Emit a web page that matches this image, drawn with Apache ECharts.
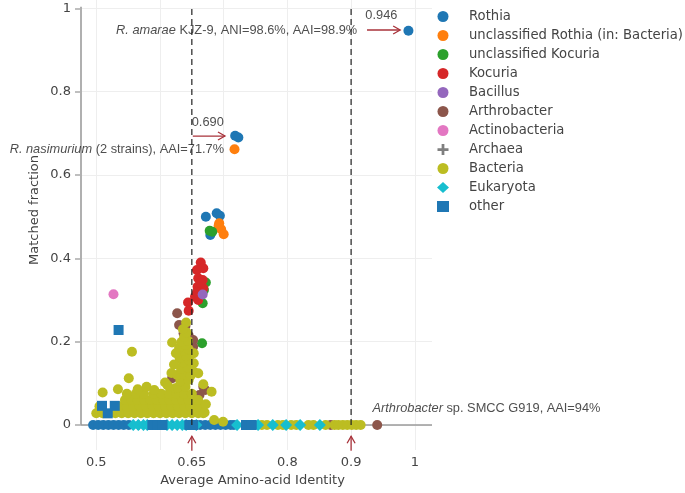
<!DOCTYPE html>
<html><head><meta charset="utf-8">
<script src="https://cdn.jsdelivr.net/npm/echarts@6/dist/echarts.min.js"></script>
<style>html,body{margin:0;padding:0;background:#fff}#c{width:685px;height:493px}</style>
</head><body><div id="c"></div>
<script>
// ---- data ----
const rothia = [[0.990,0.946],[0.718,0.694],[0.723,0.690],[0.672,0.500],[0.689,0.508],[0.694,0.502],[0.679,0.456],
  [0.495,0],[0.503,0],[0.511,0],[0.519,0],[0.527,0],[0.535,0],[0.543,0],[0.551,0],[0.648,0],
  [0.663,0],[0.671,0],[0.679,0],[0.687,0],[0.695,0],[0.703,0],[0.711,0],[0.716,0]];
const unclRothia = [[0.717,0.662],[0.693,0.484],[0.696,0.470],[0.700,0.458],[0.692,0.478]];
const unclKocuria = [[0.678,0.466],[0.682,0.464],[0.672,0.342],[0.669,0.324],[0.667,0.292],[0.666,0.196]];
const kocuria = [[0.664,0.390],[0.668,0.376],[0.658,0.372],[0.660,0.352],[0.667,0.348],[0.659,0.332],[0.668,0.328],
  [0.663,0.314],[0.655,0.308],[0.660,0.300],[0.644,0.294],[0.645,0.274],[0.658,0.318],[0.664,0.340]];
const bacillus = [[0.667,0.313]];
const arthrobacter = [[0.627,0.268],[0.630,0.240],[0.640,0.238],[0.637,0.220],[0.652,0.204],[0.652,0.188],[0.645,0.215],
  [0.619,0.112],[0.668,0.092],[0.662,0.072],[0.671,0.084],[0.868,0],[0.941,0]];
const actinobacteria = [[0.527,0.314]];
const archaea = [[0.566,0]];
const bacteria = [
  [0.500,0.028],[0.510,0.028],[0.530,0.028],[0.540,0.028],[0.550,0.028],[0.560,0.028],[0.570,0.028],[0.580,0.028],
  [0.590,0.028],[0.600,0.028],[0.610,0.028],[0.620,0.028],[0.630,0.028],[0.640,0.028],[0.650,0.028],[0.660,0.028],[0.668,0.028],
  [0.505,0.045],[0.538,0.045],[0.548,0.045],[0.558,0.045],[0.568,0.045],[0.578,0.045],[0.588,0.045],[0.598,0.045],
  [0.608,0.045],[0.618,0.045],[0.628,0.045],[0.638,0.045],[0.648,0.045],[0.658,0.045],
  [0.545,0.060],[0.555,0.060],[0.565,0.060],[0.575,0.060],[0.585,0.060],[0.595,0.060],[0.605,0.060],[0.615,0.060],
  [0.625,0.060],[0.635,0.060],[0.645,0.060],[0.655,0.060],
  [0.548,0.075],[0.562,0.075],[0.575,0.075],[0.590,0.075],[0.602,0.075],[0.614,0.075],[0.626,0.075],[0.638,0.075],[0.650,0.075],
  [0.510,0.078],[0.534,0.086],[0.565,0.086],[0.579,0.092],[0.591,0.084],[0.608,0.102],[0.624,0.088],[0.551,0.112],
  [0.556,0.176],[0.619,0.198],[0.668,0.098],[0.681,0.080],[0.653,0.172],[0.653,0.148],[0.653,0.128],[0.641,0.246],[0.660,0.124],
  [0.628,0.090],[0.640,0.092],[0.632,0.105],[0.645,0.108],[0.627,0.120],[0.638,0.122],[0.648,0.118],[0.633,0.135],
  [0.643,0.138],[0.636,0.150],[0.646,0.155],[0.631,0.160],[0.641,0.165],[0.636,0.178],[0.645,0.182],[0.630,0.185],
  [0.640,0.192],[0.634,0.200],[0.644,0.202],[0.638,0.212],[0.642,0.222],[0.636,0.230],[0.622,0.145],[0.618,0.125],
  [0.612,0.095],[0.625,0.172],
  [0.662,0.045],[0.670,0.030],[0.660,0.060],[0.672,0.050],[0.699,0.008],[0.685,0.012],
  [0.760,0],[0.768,0],[0.785,0],[0.793,0],[0.806,0],[0.814,0],[0.833,0],[0.841,0],[0.860,0],[0.874,0],
  [0.880,0],[0.887,0],[0.894,0],[0.901,0],[0.908,0],[0.915,0]];
const eukaryota = [[0.558,0],[0.566,0],[0.574,0],[0.580,0],[0.611,0],[0.619,0],[0.627,0],[0.635,0],[0.641,0],
  [0.657,0],[0.721,0],[0.754,0],[0.777,0],[0.798,0],[0.820,0],[0.851,0]];
const other = [[0.535,0.228],[0.509,0.046],[0.518,0.028],[0.529,0.046],
  [0.588,0],[0.596,0],[0.604,0],[0.646,0],[0.652,0],[0.735,0],[0.744,0]];

const xTickLabels = [0.5, 0.65, 0.8, 0.9, 1];
const xGridValues = [0.5, 0.6, 0.7, 0.8, 0.9, 1];
const yTickValues = [0, 0.2, 0.4, 0.6, 0.8, 1];
const xRange = [0.476, 1.027];
const yRange = [-0.06, 1.02];
const refLines = [[0.65, 0, 1.004], [0.9, 0, 1.004]];
const arrows = [[0.925,0.948,0.977,0.948],[0.6515,0.6935,0.702,0.6935],[0.65,-0.062,0.65,-0.027],[0.9,-0.062,0.9,-0.027]];
const annotations = [
  {pos:[0.9475,0.982], text:'0.946', align:'center'},
  {pos:[0.9096,0.946], text:'{i|R. amarae} KJZ-9, ANI=98.6%, AAI=98.9%', align:'right'},
  {pos:[0.675,0.726], text:'0.690', align:'center'},
  {pos:[0.7006,0.662], text:'{i|R. nasimurium} (2 strains), AAI=71.7%', align:'right'},
  {pos:[0.9336,0.040], text:'{i|Arthrobacter} sp. SMCC G919, AAI=94%', align:'left'}
];
const axisFrame = [[xRange[0],0,xRange[0],1.004],[xRange[0],0,xRange[1],0]];

const groups = [
  ['Rothia', rothia, '#1f77b4', 'circle'],
  ['unclassified Rothia (in: Bacteria)', unclRothia, '#ff7f0e', 'circle'],
  ['unclassified Kocuria', unclKocuria, '#2ca02c', 'circle'],
  ['Kocuria', kocuria, '#d62728', 'circle'],
  ['Bacillus', bacillus, '#9467bd', 'circle'],
  ['Arthrobacter', arthrobacter, '#8c564b', 'circle'],
  ['Actinobacteria', actinobacteria, '#e377c2', 'circle'],
  ['Archaea', archaea, '#7f7f7f', 'path://M3,0H5V3H8V5H5V8H3V5H0V3H3Z'],
  ['Bacteria', bacteria, '#bcbd22', 'circle'],
  ['Eukaryota', eukaryota, '#17becf', 'diamond'],
  ['other', other, '#1f77b4', 'rect']
];

const FONT = 'DejaVu Sans';
const ANNOT_FONT = 12.8;
const chart = echarts.init(document.getElementById('c'));
const series = groups.map(([name, data, color, symbol]) => ({
  name, type: 'scatter', data, symbol,
  symbolSize: symbol === 'diamond' ? 12 : 10,
  itemStyle: {color, opacity: 1}, z: 3, clip: false,
  emphasis: {disabled: true}
}));

// axis frame (below points)
series.unshift({
  type: 'custom', name: 'frame', data: axisFrame, z: 1, clip: false, silent: true,
  renderItem(params, api) {
    const p1 = api.coord([api.value(0), api.value(1)]);
    const p2 = api.coord([api.value(2), api.value(3)]);
    const vertical = params.dataIndex === 0;
    return {type: 'line', shape: {x1: p1[0], y1: p1[1], x2: p2[0], y2: p2[1]},
      style: {stroke: vertical ? '#b0b0b0' : '#9a9a9a', lineWidth: vertical ? 2 : 1.6}};
  }
});
// dashed reference lines (above points)
series.push({
  type: 'custom', name: 'ref', data: refLines, z: 10, clip: false, silent: true,
  renderItem(params, api) {
    const p1 = api.coord([api.value(0), api.value(1)]);
    const p2 = api.coord([api.value(0), api.value(2)]);
    return {type: 'line', shape: {x1: p1[0], y1: p1[1], x2: p2[0], y2: p2[1]},
      style: {stroke: '#222', lineWidth: 1.2, lineDash: [6, 4]}};
  }
});
// arrows
series.push({
  type: 'custom', name: 'arrows', data: arrows, z: 11, clip: false, silent: true,
  renderItem(params, api) {
    const a = api.coord([api.value(0), api.value(1)]);
    const b = api.coord([api.value(2), api.value(3)]);
    const dx = b[0]-a[0], dy = b[1]-a[1], L = Math.hypot(dx, dy);
    const ux = dx/L, uy = dy/L, h = 7, w = 4;
    const c1 = [b[0]-ux*h - uy*w, b[1]-uy*h + ux*w];
    const c2 = [b[0]-ux*h + uy*w, b[1]-uy*h - ux*w];
    const st = {stroke: '#a8323a', lineWidth: 1.3, fill: null};
    return {type: 'group', children: [
      {type: 'line', shape: {x1: a[0], y1: a[1], x2: b[0], y2: b[1]}, style: st},
      {type: 'polyline', shape: {points: [c1, b, c2]}, style: st}
    ]};
  }
});
// annotation texts
series.push({
  type: 'scatter', name: 'annot', symbolSize: 1, z: 12, clip: false, silent: true,
  itemStyle: {color: 'rgba(0,0,0,0)'},
  data: annotations.map(a => ({
    value: a.pos,
    label: {show: true, position: 'inside', formatter: a.text, align: a.align, verticalAlign: 'middle',
      fontFamily: 'Liberation Sans', fontSize: ANNOT_FONT, color: '#222',
      rich: {i: {fontStyle: 'italic', fontFamily: 'Liberation Sans', fontSize: ANNOT_FONT, color: '#222'}}}
  }))
});

const fmt = v => String(+(+v).toFixed(2));
chart.setOption({
  animation: false,
  backgroundColor: '#fff',
  grid: {left: 81, top: 0, width: 351, height: 450, outerBoundsMode: 'none', containLabel: false},
  legend: {
    orient: 'vertical', left: 432, top: 5, itemWidth: 12, itemHeight: 11, itemGap: 6,
    data: groups.map(g => g[0]),
    textStyle: {fontFamily: FONT, fontSize: 13.2, color: '#444', padding: [0,0,0,15]},
    selectedMode: false
  },
  xAxis: {
    type: 'value', min: xRange[0], max: xRange[1],
    axisLine: {show: false, onZero: false},
    axisTick: {show: false, customValues: xGridValues},
    axisLabel: {customValues: xTickLabels, formatter: fmt, fontFamily: FONT, fontSize: 13, color: '#444', margin: 6},
    splitLine: {show: true, lineStyle: {color: '#eeeeee', width: 1}},
    name: 'Average Amino-acid Identity', nameLocation: 'middle', nameGap: 24,
    nameTextStyle: {fontFamily: FONT, fontSize: 13, color: '#444', padding: [0, 8, 0, 0]}
  },
  yAxis: {
    type: 'value', min: yRange[0], max: yRange[1],
    axisLine: {show: false},
    axisTick: {show: true, customValues: yTickValues, length: 6, lineStyle: {color: '#aaa', width: 1.5}},
    axisLabel: {customValues: yTickValues, formatter: fmt, fontFamily: FONT, fontSize: 13, color: '#444', margin: 10},
    splitLine: {show: true, lineStyle: {color: '#eeeeee', width: 1}}
  },
  graphic: [{
    type: 'text', x: 35, y: 210, rotation: Math.PI/2,
    style: {text: 'Matched fraction', fontFamily: FONT, fontSize: 13, fill: '#444', align: 'center', verticalAlign: 'middle'}
  }],
  series
});
</script></body></html>
